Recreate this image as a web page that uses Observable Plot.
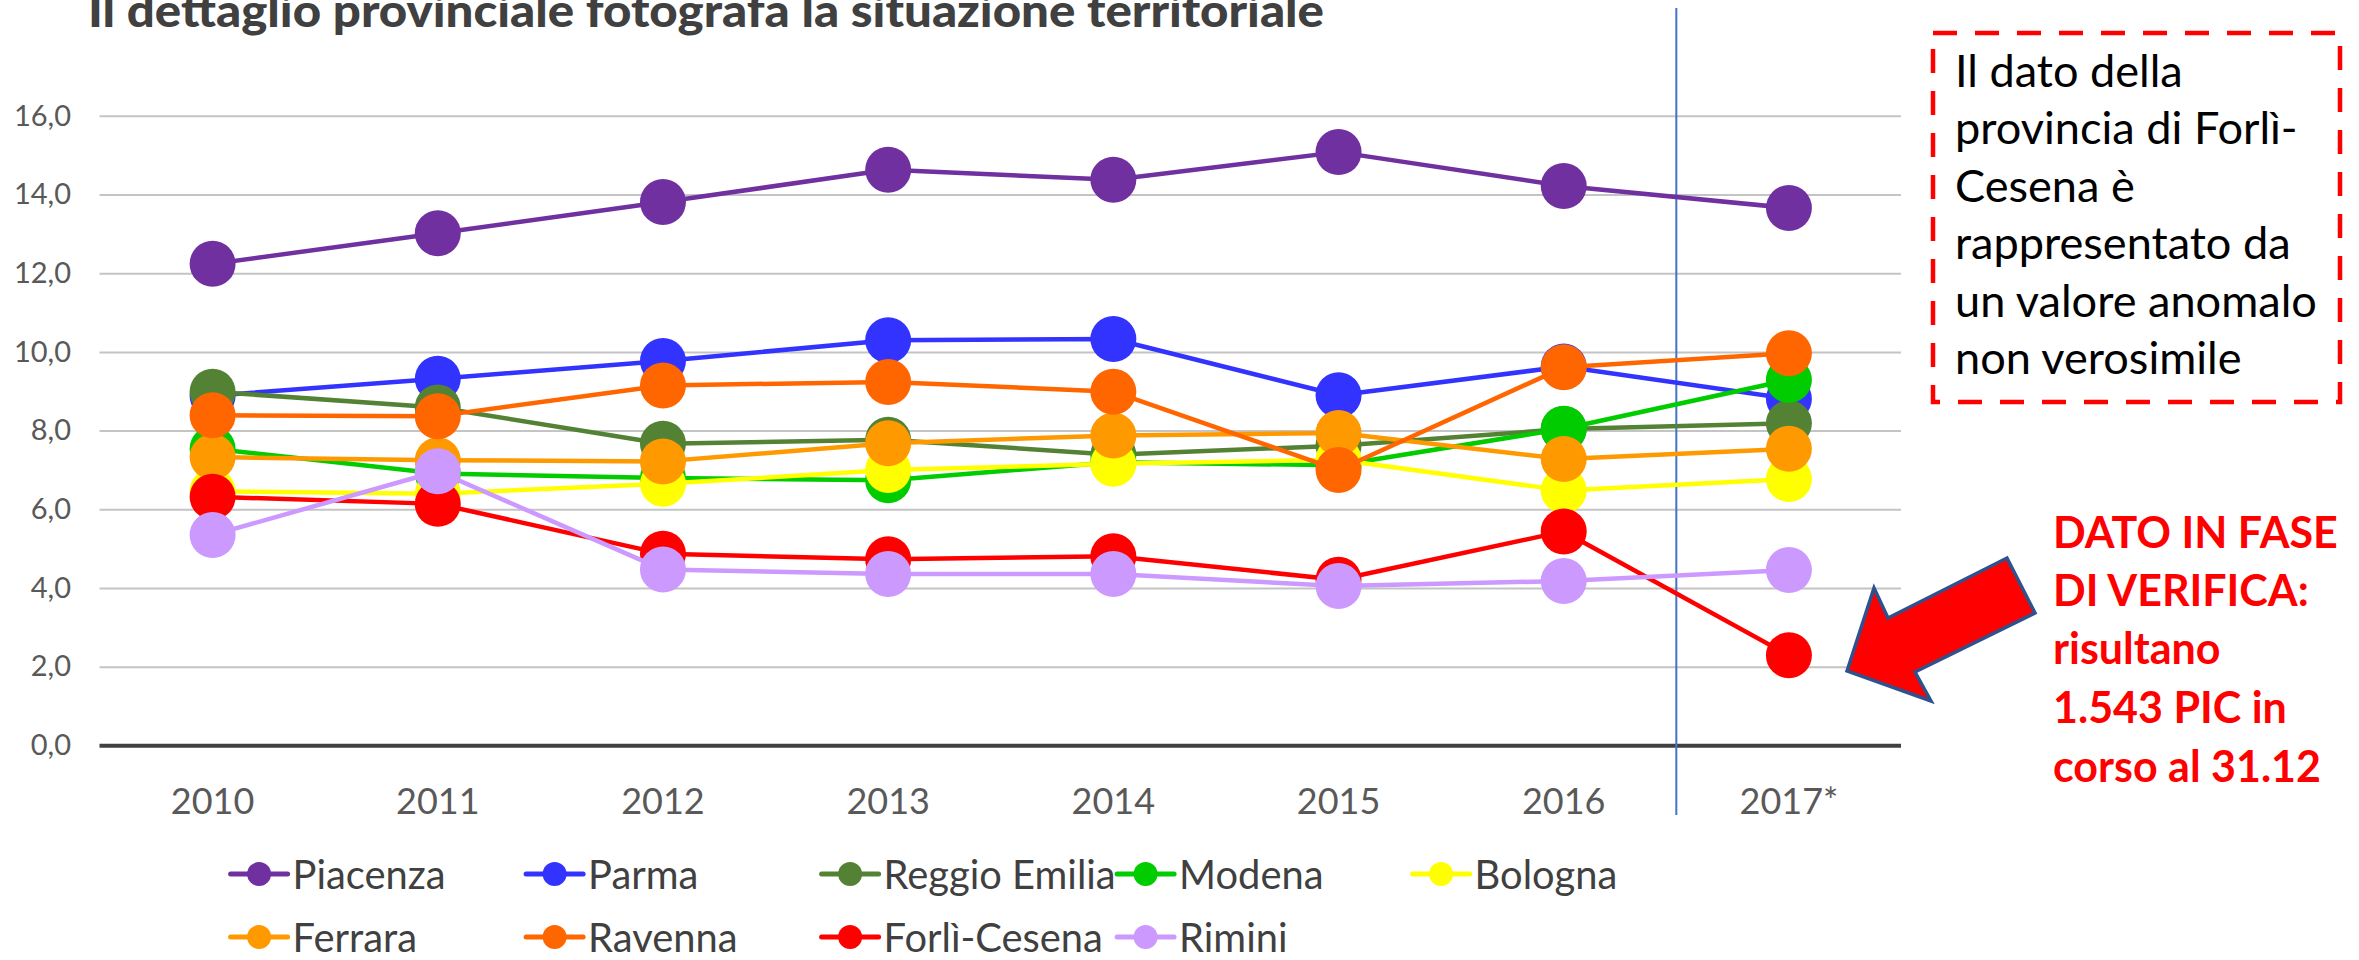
<!DOCTYPE html>
<html>
<head>
<meta charset="utf-8">
<script src="https://cdn.jsdelivr.net/npm/d3@7"></script>
<script src="https://cdn.jsdelivr.net/npm/@observablehq/plot@0.6"></script>
<style>
  html, body { margin: 0; padding: 0; background: #ffffff; }
  #wrap { position: relative; width: 2359px; height: 960px; overflow: hidden; background: #ffffff; }
  #chart, #overlay { position: absolute; left: 0; top: 0; }
  #overlay { pointer-events: none; }
</style>
</head>
<body>
<div id="wrap">
  <div id="chart"></div>
</div>
<script>
// ---------- DATA ----------
const years = ["2010", "2011", "2012", "2013", "2014", "2015", "2016", "2017*"];
const provinces = ["Piacenza", "Parma", "Reggio Emilia", "Modena", "Bologna", "Ferrara", "Ravenna", "Forlì-Cesena", "Rimini"];
const colors = ["#7030A0", "#3333FF", "#548235", "#00CC00", "#FFFF00", "#FF9900", "#FF6600", "#FF0000", "#CC99FF"];

const piacenza     = [12.25, 13.03, 13.82, 14.64, 14.39, 15.09, 14.23, 13.67];
const parma        = [8.90, 9.33, 9.78, 10.31, 10.34, 8.91, 9.64, 8.82];
const reggioEmilia = [9.00, 8.60, 7.68, 7.78, 7.40, 7.63, 8.05, 8.20];
const modena       = [7.55, 6.92, 6.81, 6.75, 7.21, 7.13, 8.06, 9.30];
const bologna      = [6.47, 6.41, 6.66, 7.01, 7.17, 7.27, 6.49, 6.78];
const ferrara      = [7.34, 7.26, 7.23, 7.69, 7.89, 7.95, 7.29, 7.55];
const ravenna      = [8.40, 8.38, 9.16, 9.25, 9.00, 7.01, 9.62, 9.98];
const forliCesena  = [6.33, 6.15, 4.88, 4.74, 4.82, 4.22, 5.45, 2.30];
const rimini       = [5.36, 6.98, 4.48, 4.37, 4.37, 4.06, 4.19, 4.47];
const seriesValues = [piacenza, parma, reggioEmilia, modena, bologna, ferrara, ravenna, forliCesena, rimini];

const yTicks = [0, 2, 4, 6, 8, 10, 12, 14, 16];
const dividerAt = 6.5;          // boundary between 2016 and 2017*
const xDomain = [-0.5, 7.5];
const yDomain = [-1.77, 18.74];

const titleText = "Il dettaglio provinciale fotografa la situazione territoriale";
const boxLines = ["Il dato della", "provincia di Forlì-", "Cesena è", "rappresentato da", "un valore anomalo", "non verosimile"];
const redLines = ["DATO IN FASE", "DI VERIFICA:", "risultano", "1.543 PIC in", "corso al 31.12"];

// ---------- TABLE ----------
const rows = provinces.flatMap((p, s) =>
  seriesValues[s].map((v, i) => ({ province: p, i, year: years[i], v })));

const fmt = d => d.toFixed(1).replace(".", ",");

const seriesMarks = provinces.flatMap((p, s) => {
  const d = rows.filter(r => r.province === p);
  return [
    Plot.line(d, { x: "i", y: "v", stroke: colors[s], strokeWidth: 4.5, strokeLinejoin: "round" }),
    Plot.dot(d, { x: "i", y: "v", fill: colors[s], r: 23 })
  ];
});

const chart = Plot.plot({
  width: 2359,
  height: 960,
  marginLeft: 99.5,
  marginRight: 458,
  marginTop: 8,
  marginBottom: 145,
  x: { domain: xDomain, axis: null },
  y: { domain: yDomain, axis: null },
  style: { fontFamily: "Lato, 'Open Sans', sans-serif", background: "#ffffff", overflow: "visible" },
  marks: [
    Plot.ruleY(yTicks.filter(t => t > 0), { stroke: "#c4c4c4", strokeWidth: 2 }),
    Plot.ruleY([0], { stroke: "#404040", strokeWidth: 4 }),
    Plot.ruleX([dividerAt], { stroke: "#4472C4", strokeWidth: 2 }),
    ...seriesMarks,
    Plot.text(yTicks, { x: () => xDomain[0], y: d => d, text: fmt, textAnchor: "end", dx: -29, fontSize: 29, fill: "#595959" }),
    Plot.text(years, { x: (d, i) => i, y: () => 0, text: d => d, dy: 57, fontSize: 36, fill: "#595959" })
  ]
});
document.getElementById("chart").appendChild(chart);

// ---------- OVERLAY (title, legend, annotations) ----------
const svg = d3.select("#wrap").append("svg")
  .attr("id", "overlay")
  .attr("width", 2359).attr("height", 960)
  .style("font-family", "Lato, 'Open Sans', sans-serif");

svg.append("text")
  .attr("x", 88).attr("y", 27)
  .attr("font-size", 46).attr("font-weight", 900).attr("fill", "#404040")
  .attr("textLength", 1236).attr("lengthAdjust", "spacingAndGlyphs")
  .text(titleText);

function fitGroup(sel, refIndex, targetWidth) {
  const nodes = sel.nodes();
  const w = nodes[refIndex].getComputedTextLength();
  const fs = parseFloat(nodes[refIndex].getAttribute("font-size"));
  const nfs = fs * targetWidth / w;
  sel.attr("font-size", nfs);
}

// Legend
const legendX0 = 230.6, legendColW = 295.5, legendY0 = 874, legendRowH = 63;
const lg = svg.append("g");
const items = lg.selectAll("g").data(provinces).join("g")
  .attr("transform", (d, k) => `translate(${legendX0 + (k % 5) * legendColW},${legendY0 + Math.floor(k / 5) * legendRowH})`);
items.append("line").attr("x1", 0).attr("x2", 57).attr("y1", 0).attr("y2", 0)
  .attr("stroke", (d, k) => colors[k]).attr("stroke-width", 5).attr("stroke-linecap", "round");
items.append("circle").attr("cx", 28.5).attr("cy", 0).attr("r", 12).attr("fill", (d, k) => colors[k]);
const legTexts = items.append("text").attr("x", 62).attr("y", 14.5)
  .attr("font-size", 40).attr("fill", "#404040").text(d => d);
fitGroup(legTexts, 0, 153);

// Dashed box
svg.append("rect").attr("x", 1933).attr("y", 33).attr("width", 407).attr("height", 369)
  .attr("fill", "none").attr("stroke", "#FF0000").attr("stroke-width", 4.5)
  .attr("stroke-dasharray", "24 18");
const boxBase = [87, 144, 202, 259, 317, 374];
const boxT = svg.append("g").selectAll("text").data(boxLines).join("text")
  .attr("x", 1955).attr("y", (d, i) => boxBase[i])
  .attr("font-size", 44).attr("fill", "#000000").text(d => d);
fitGroup(boxT, 4, 362);

// Arrow
svg.append("polygon")
  .attr("points", "1847,671 1874,588 1888,618 2007,558 2035,613 1915,672 1931,701")
  .attr("fill", "#FF0000").attr("stroke", "#2F528F").attr("stroke-width", 3.5)
  .attr("stroke-linejoin", "miter");

// Red text
const redBase = [548, 606, 664, 723, 782];
const redT = svg.append("g").selectAll("text").data(redLines).join("text")
  .attr("x", 2053).attr("y", (d, i) => redBase[i])
  .attr("font-size", 42).attr("font-weight", 700).attr("fill", "#FF0000").text(d => d);
fitGroup(redT, 4, 268);
</script>
</body>
</html>
